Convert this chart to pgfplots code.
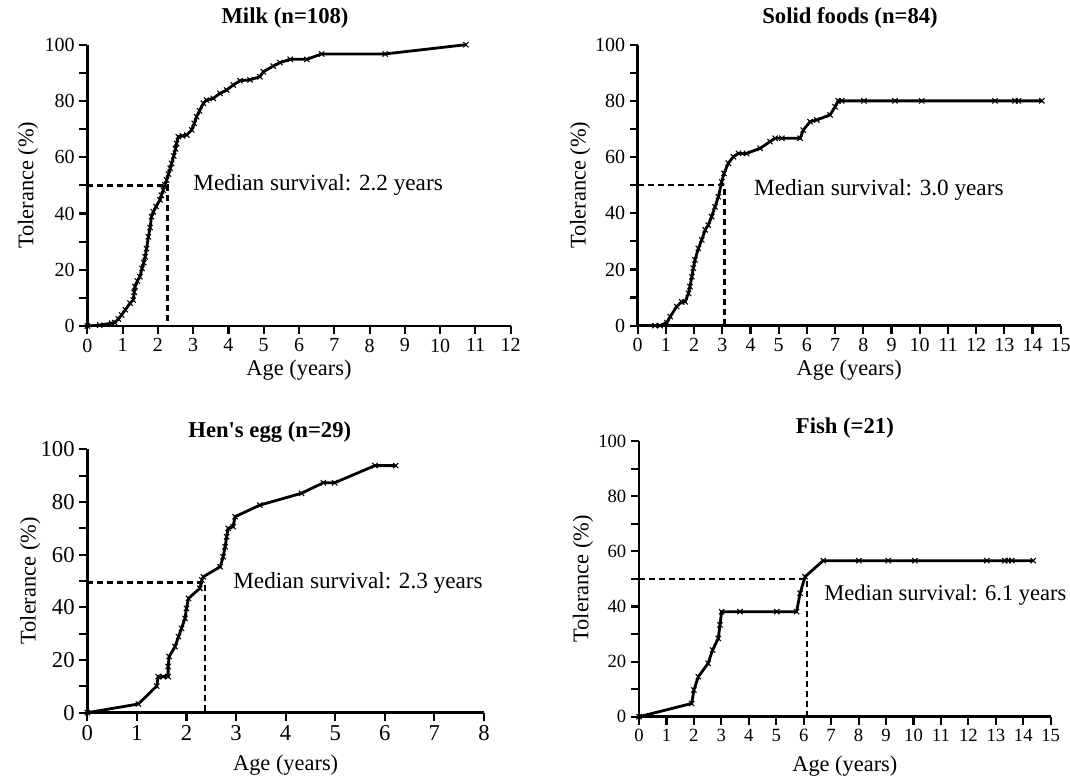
\documentclass[border=0pt]{standalone}
\usepackage{fontspec}
\setmainfont{Liberation Serif}
\usepackage{pgfplots}
\pgfplotsset{compat=1.18}
\pgfplotsset{
  km/.style={
    scale only axis,
    axis lines=left,
    axis line style={line width=2.2pt,-},
    tick style={line width=1.6pt,black},
    tick align=outside,
    major tick length=6pt,
    minor tick length=6pt,
    xtick pos=bottom, ytick pos=left,
    ymin=0,ymax=100,
    ytick={0,20,...,100},
    minor ytick={10,30,50,70,90},
    enlargelimits=false,
    clip=false,
    /pgf/number format/assume math mode=true,
    label style={font=\fontsize{16.8}{20}\selectfont},
    xlabel={Age (years)},
    ylabel={Tolerance (\%)},
  },
  curve/.style={black,line width=2.1pt,mark=x,mark size=2.8pt,mark options={line width=0.8pt,solid}},
  med/.style={black,line width=1.8pt,dash pattern=on 4.5pt off 3pt},
}
\newcommand{\mt}{\fontsize{17.4}{20}\selectfont}
\tikzset{ttl/.style={font=\fontsize{17}{20}\selectfont\bfseries,anchor=center,inner sep=0pt},
  medtxt/.style={anchor=west,inner sep=0pt,font=\mt}}
\begin{document}
\begin{tikzpicture}
\useasboundingbox (0,0) rectangle (802.5pt,582.75pt);
% ---------- Milk ----------
\begin{axis}[km, at={(65.48pt,338.25pt)}, anchor=south west,
  width=317.55pt, height=210.98pt,
  xmin=0,xmax=12, xtick={0,...,12},
  tick label style={font=\fontsize{15}{18}\selectfont},
  xlabel style={at={(axis description cs:0.5,-0.157)},anchor=center},
  ylabel style={at={(axis description cs:-0.14,0.5)},anchor=center},
]
\addplot[med] coordinates {(0,50) (2.27,50) (2.27,0)};
\addplot[curve] coordinates {
(0,0) (0.35,0.3) (0.69,1.0) (0.78,1.2) (0.88,2.5) (0.97,3.9) (1.08,5.8) (1.21,8.1)
(1.30,9.2) (1.33,12) (1.35,14) (1.42,16) (1.49,17.5) (1.55,20.5) (1.60,22.5)
(1.64,24.6) (1.68,27.5) (1.73,31.7) (1.78,35) (1.82,38.9) (1.87,40.6) (1.95,42.5)
(2.06,44.8) (2.10,46.5) (2.15,48.3) (2.20,50.2) (2.25,51.9) (2.30,54) (2.35,56)
(2.39,57.8) (2.45,60.5) (2.50,63) (2.53,64.9) (2.58,67.3) (2.70,67.6) (2.82,67.9)
(2.96,69.7) (3.03,72) (3.10,74.4) (3.18,76.5) (3.29,79.2) (3.38,80.3) (3.57,80.9)
(3.76,82.7) (3.95,83.9) (4.14,85.7) (4.33,87.2) (4.61,87.5) (4.89,88.6) (4.99,90.4)
(5.27,92.4) (5.46,93.6) (5.75,94.8) (6.22,94.8) (6.64,96.7) (8.44,96.7) (10.73,100)};
\node[medtxt] at (axis cs:3.0,50) {Median survival: 2.2 years};
\node[ttl] at (axis description cs:0.467,1.095) {Milk (n=108)};
\end{axis}
% ---------- Solid foods ----------
\begin{axis}[km, at={(478.3pt,338.5pt)}, anchor=south west,
  width=317.25pt, height=210.75pt,
  xmin=0,xmax=15, xtick={0,...,15},
  tick label style={font=\fontsize{15}{18}\selectfont},
  xlabel style={at={(axis description cs:0.5,-0.157)},anchor=center},
  ylabel style={at={(axis description cs:-0.136,0.5)},anchor=center},
]
\addplot[med] coordinates {(0,50) (3.07,50) (3.07,0)};
\addplot[curve] coordinates {
(0.61,0) (0.79,0) (1.03,1.1) (1.15,3.2) (1.38,6.8) (1.56,8.5) (1.68,8.5) (1.80,11.5)
(1.85,13.9) (1.92,17.4) (1.97,20.5) (2.03,23.4) (2.15,27.5) (2.27,30.5) (2.39,34.1)
(2.50,35.8) (2.62,38.8) (2.74,42.3) (2.86,45.9) (2.98,51.2) (3.06,54.2) (3.21,57.8)
(3.39,60.1) (3.57,61.3) (3.86,61.3) (4.34,63.1) (4.69,65.5) (4.87,66.7) (5.11,66.7)
(5.76,66.7) (5.87,69.6) (6.11,72.6) (6.35,73.2) (6.82,75.0) (7.0,77.9) (7.11,80)
(7.23,80) (8.02,80) (9.12,80) (10.07,80) (12.67,80) (13.38,80) (13.5,80) (14.33,80)};
\node[medtxt] at (axis cs:4.12,48.3) {Median survival: 3.0 years};
\node[ttl] at (axis description cs:0.502,1.095) {Solid foods (n=84)};
\end{axis}
% ---------- Hen's egg ----------
\begin{axis}[km, at={(65.48pt,48.23pt)}, anchor=south west,
  width=297.5pt, height=197.55pt,
  xmin=0,xmax=8, xtick={0,...,8},
  tick label style={font=\fontsize{17}{20}\selectfont},
  xlabel style={at={(axis description cs:0.5,-0.199)},anchor=center},
  ylabel style={at={(axis description cs:-0.144,0.5)},anchor=center},
]
\addplot[med] coordinates {(0,49.4) (2.37,49.4) (2.37,0)};
\addplot[curve] coordinates {
(0,0) (1.03,3.3) (1.40,10.1) (1.43,13.7) (1.53,13.7) (1.63,13.7) (1.63,17.5) (1.65,21.3)
(1.77,25.1) (1.84,28.9) (1.90,32.0) (1.97,35.8) (2.00,39.6) (2.04,43.4) (2.27,47.2)
(2.31,50.4) (2.34,51.6) (2.68,55.4) (2.74,59.2) (2.78,63.0) (2.81,66.8) (2.84,70.0)
(2.94,70.6) (2.98,74.4) (3.48,78.8) (4.32,83.3) (4.76,87.3) (4.99,87.3) (5.80,93.8) (6.22,93.8)};
\node[medtxt] at (axis cs:2.94,49.2) {Median survival: 2.3 years};
\node[ttl] at (axis description cs:0.46,1.066) {Hen\textquotesingle s egg (n=29)};
\end{axis}
% ---------- Fish ----------
\begin{axis}[km, at={(479.25pt,45.2pt)}, anchor=south west,
  width=308.8pt, height=206.8pt,
  xmin=0,xmax=15, xtick={0,...,15},
  tick label style={font=\fontsize{14}{17}\selectfont},
  xlabel style={at={(axis description cs:0.5,-0.18)},anchor=center},
  ylabel style={at={(axis description cs:-0.136,0.5)},anchor=center},
]
\addplot[med] coordinates {(0,49.9) (6.13,49.9) (6.13,0)};
\addplot[curve] coordinates {
(0,0) (1.92,4.8) (2.0,9.7) (2.16,14.5) (2.52,19.4) (2.68,24.2) (2.89,28.4) (2.95,33.3)
(3.01,38.1) (3.68,38.1) (5.02,38.1) (5.74,38.1) (5.87,44.8) (6.05,50.8) (6.71,56.6)
(8.01,56.6) (9.08,56.6) (10.05,56.6) (12.67,56.6) (13.33,56.6) (13.45,56.6) (13.58,56.6) (14.36,56.6)};
\node[medtxt,font=\fontsize{16.9}{20}\selectfont] at (axis cs:6.74,44.2) {Median survival: 6.1 years};
\node[ttl] at (axis description cs:0.5,1.047) {Fish (=21)};
\end{axis}
\end{tikzpicture}
\end{document}
